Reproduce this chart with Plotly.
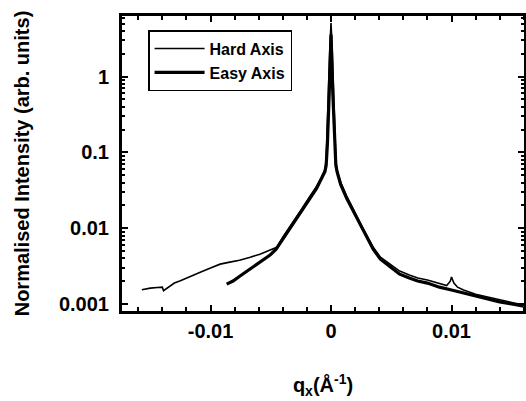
import plotly.graph_objects as go

# Hard Axis (long curve)
hard_q = [-0.0157, -0.0150, -0.0144, -0.0140, -0.0139, -0.0135, -0.0130, -0.0125,
          -0.0117, -0.0109, -0.0100, -0.0092, -0.0084, -0.0076, -0.0067, -0.0059,
          -0.0051, -0.0045, -0.0040, -0.0032, -0.0025, -0.0018, -0.0012, -0.0008,
          -0.0005, -0.0004, -0.0003, -0.0002, -0.0001, 0.0,
          0.0001, 0.0002, 0.0003, 0.0004, 0.0005, 0.0008, 0.0013, 0.0018, 0.0021,
          0.0026, 0.0030, 0.0035, 0.0041, 0.0050, 0.0057, 0.0065, 0.0072, 0.0080,
          0.0090, 0.0096, 0.0099, 0.0100, 0.0102, 0.0105, 0.0110, 0.0120, 0.0130,
          0.0140, 0.0150, 0.0160]
hard_i = [0.00154, 0.00162, 0.00165, 0.00167, 0.00150, 0.00167, 0.00189, 0.00203,
          0.00227, 0.00260, 0.00298, 0.00336, 0.00357, 0.00379, 0.00415, 0.00455,
          0.00514, 0.00560, 0.00762, 0.0116, 0.0173, 0.0256, 0.0357, 0.0469,
          0.0598, 0.081, 0.20, 0.79, 2.27, 5.1,
          2.27, 0.79, 0.20, 0.081, 0.058, 0.0403, 0.0266, 0.0183, 0.0145,
          0.0103, 0.00785, 0.00562, 0.00415, 0.00326, 0.00272, 0.00241, 0.00220, 0.00207,
          0.00186, 0.00175, 0.00200, 0.00227, 0.00189, 0.00167, 0.00153, 0.00135, 0.00124,
          0.00113, 0.00105, 0.00097]

# Easy Axis (short thick curve)
easy_q = [-0.00866, -0.00813, -0.00755, -0.00697, -0.00647, -0.00573, -0.00506, -0.00456,
          -0.0040, -0.0032, -0.0025, -0.0018, -0.0012, -0.0008, -0.0005, -0.0004, -0.0003,
          -0.00015, 0.0, 0.00015, 0.0003, 0.0004, 0.0005, 0.0008, 0.0013, 0.0018, 0.0026,
          0.0030, 0.0035, 0.0041, 0.0050, 0.0057, 0.0065, 0.0072, 0.0080, 0.0090,
          0.0100, 0.0110, 0.0120, 0.0130, 0.0140, 0.0150, 0.0160]
easy_i = [0.00183, 0.00201, 0.00234, 0.00272, 0.00307, 0.00368, 0.00442, 0.00529,
          0.00716, 0.0109, 0.0162, 0.0241, 0.0336, 0.0441, 0.0562, 0.068, 0.13,
          0.60, 3.6, 0.60, 0.13, 0.068, 0.056, 0.0379, 0.0248, 0.0173, 0.0097,
          0.00738, 0.00529, 0.00391, 0.00298, 0.00248, 0.00220, 0.00201, 0.00189, 0.00167,
          0.00153, 0.00140, 0.00127, 0.00117, 0.00107, 0.00100, 0.00094]

y_tickvals = [0.001, 0.01, 0.1, 1]
y_ticktext = ["<b>0.001</b>", "<b>0.01</b>", "<b>0.1</b>", "<b>1</b>"]
y_minor_vals = [m * d for d in (0.001, 0.01, 0.1, 1) for m in range(2, 10)]
x_tickvals = [-0.01, 0, 0.01]
x_ticktext = ["<b>-0.01</b>", "<b>0</b>", "<b>0.01</b>"]
x_minor_vals = [-0.016, -0.014, -0.012, -0.008, -0.006, -0.004, -0.002,
                0.002, 0.004, 0.006, 0.008, 0.012, 0.014, 0.016]

FONT = "Liberation Sans, Arial, sans-serif"

fig = go.Figure()
fig.add_trace(go.Scatter(x=hard_q, y=hard_i, mode="lines", name="<b>Hard Axis</b>",
                         line=dict(color="black", width=1.6)))
fig.add_trace(go.Scatter(x=easy_q, y=easy_i, mode="lines", name="<b>Easy Axis</b>",
                         line=dict(color="black", width=3.2)))

fig.update_layout(
    width=526, height=401,
    margin=dict(l=121, r=1, t=15, b=89, autoexpand=False),
    paper_bgcolor="white", plot_bgcolor="white",
    font=dict(family=FONT, color="black"),
    showlegend=True,
    legend=dict(x=0.067, y=0.949, xanchor="left", yanchor="top",
                bordercolor="black", borderwidth=1.5, bgcolor="white",
                font=dict(size=16, family=FONT), itemwidth=50,
                tracegroupgap=0),
    xaxis=dict(
        range=[-0.01743, 0.0161], automargin=False,
        tickmode="array", tickvals=x_tickvals, ticktext=x_ticktext,
        ticks="inside", ticklen=7, tickwidth=2, tickcolor="black",
        showline=True, linecolor="black", linewidth=2, mirror="allticks",
        showgrid=False, zeroline=False,
        tickfont=dict(size=20, family=FONT),
        minor=dict(tickmode="array", tickvals=x_minor_vals, ticks="inside", ticklen=5, tickwidth=1.5,
                   tickcolor="black", showgrid=False),
        title=dict(text="<b>q<sub>x</sub>(Å<sup>-1</sup>)</b>", font=dict(size=20, family=FONT), standoff=37),
    ),
    yaxis=dict(
        type="log", automargin=False,
        range=[-3.105, 0.813],
        tickmode="array", tickvals=y_tickvals, ticktext=y_ticktext,
        ticks="inside", ticklen=7, tickwidth=2, tickcolor="black",
        showline=True, linecolor="black", linewidth=2, mirror="allticks",
        showgrid=False, zeroline=False,
        tickfont=dict(size=20, family=FONT),
        ticklabelstandoff=6,
        minor=dict(tickmode="array", tickvals=y_minor_vals, ticks="inside", ticklen=4, tickwidth=1.5,
                   tickcolor="black", showgrid=False),
        title=dict(text="<b>Normalised Intensity (arb. units)</b>", font=dict(size=20, family=FONT), standoff=24),
    ),
    shapes=[dict(type="rect", xref="paper", yref="paper", x0=0, y0=0, x1=1, y1=1,
                 line=dict(color="black", width=2), layer="above")],
)

fig.write_html("out.html", config={"displayModeBar": False},
               post_script="document.body.style.margin='0';document.body.style.overflow='hidden';")
